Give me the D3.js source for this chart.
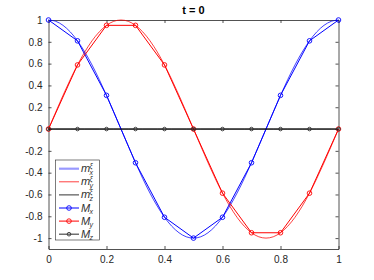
<!DOCTYPE html>
<html>
<head>
<meta charset="utf-8">
<script src="https://cdn.jsdelivr.net/npm/d3@7"></script>
<style>
  body { margin: 0; background: #fff; }
  text { font-family: "Liberation Sans", Helvetica, Arial, sans-serif; }
</style>
</head>
<body>
<svg id="chart" width="374" height="280"></svg>
<script>
// fine samples of the exact curves m^xi
var xFine = [0, 0.025, 0.05, 0.075, 0.1, 0.125, 0.15, 0.175, 0.2, 0.225, 0.25, 0.275, 0.3, 0.325, 0.35, 0.375, 0.4, 0.425, 0.45, 0.475,
  0.5, 0.525, 0.55, 0.575, 0.6, 0.625, 0.65, 0.675, 0.7, 0.725, 0.75, 0.775, 0.8, 0.825, 0.85, 0.875, 0.9, 0.925, 0.95, 0.975, 1];
var mx = [1, 0.988, 0.951, 0.891, 0.809, 0.707, 0.588, 0.454, 0.309, 0.156, 0, -0.156, -0.309, -0.454, -0.588, -0.707, -0.809, -0.891, -0.951, -0.988,
  -1, -0.988, -0.951, -0.891, -0.809, -0.707, -0.588, -0.454, -0.309, -0.156, 0, 0.156, 0.309, 0.454, 0.588, 0.707, 0.809, 0.891, 0.951, 0.988, 1];
var my = [0, 0.156, 0.309, 0.454, 0.588, 0.707, 0.809, 0.891, 0.951, 0.988, 1, 0.988, 0.951, 0.891, 0.809, 0.707, 0.588, 0.454, 0.309, 0.156,
  0, -0.156, -0.309, -0.454, -0.588, -0.707, -0.809, -0.891, -0.951, -0.988, -1, -0.988, -0.951, -0.891, -0.809, -0.707, -0.588, -0.454, -0.309, -0.156, 0];
var mz = [0, 0, 0, 0, 0, 0, 0, 0, 0, 0, 0, 0, 0, 0, 0, 0, 0, 0, 0, 0, 0, 0, 0, 0, 0, 0, 0, 0, 0, 0, 0, 0, 0, 0, 0, 0, 0, 0, 0, 0, 0];

// nodal values M
var xNodes = [0, 0.1, 0.2, 0.3, 0.4, 0.5, 0.6, 0.7, 0.8, 0.9, 1];
var Mx = [1, 0.809, 0.309, -0.309, -0.809, -1, -0.809, -0.309, 0.309, 0.809, 1];
var My = [0, 0.588, 0.951, 0.951, 0.588, 0, -0.588, -0.951, -0.951, -0.588, 0];
var Mz = [0, 0, 0, 0, 0, 0, 0, 0, 0, 0, 0];

var xTicks = [0, 0.2, 0.4, 0.6, 0.8, 1];
var yTicks = [-1, -0.8, -0.6, -0.4, -0.2, 0, 0.2, 0.4, 0.6, 0.8, 1];

var svg = d3.select('#chart'),
    padL = 48.5, padR = 338.5, padT = 20, padB = 249,
    axisCol = '#262626';

var x = d3.scaleLinear().domain([0, 1]).range([padL, padR]),
    y = d3.scaleLinear().domain([-1.1, 1]).range([padB, padT]);

// title
svg.append('text')
  .attr('x', (padL + padR) / 2).attr('y', 14)
  .attr('text-anchor', 'middle')
  .attr('font-size', 11).attr('font-weight', 'bold')
  .attr('fill', '#000')
  .text('t = 0');

// axes (ticks inward, box on)
var fmt = function(d) { return String(d); };
svg.append('g').attr('transform', 'translate(0,' + padB + ')')
  .call(d3.axisBottom(x).tickValues(xTicks).tickFormat(fmt).tickSizeInner(-3).tickSizeOuter(0).tickPadding(7));
svg.append('g').attr('transform', 'translate(0,' + padT + ')')
  .call(d3.axisTop(x).tickValues(xTicks).tickFormat('').tickSizeInner(-3).tickSizeOuter(0));
svg.append('g').attr('transform', 'translate(' + padL + ',0)')
  .call(d3.axisLeft(y).tickValues(yTicks).tickFormat(fmt).tickSizeInner(-3).tickSizeOuter(0).tickPadding(6));
svg.append('g').attr('transform', 'translate(' + padR + ',0)')
  .call(d3.axisRight(y).tickValues(yTicks).tickFormat('').tickSizeInner(-3).tickSizeOuter(0));

svg.selectAll('.domain').attr('stroke', axisCol).attr('stroke-width', 0.8);
svg.selectAll('.tick line').attr('stroke', axisCol).attr('stroke-width', 0.8);
svg.selectAll('.tick text').attr('fill', axisCol).attr('font-size', 10)
  .attr('font-family', '"Liberation Sans", Helvetica, Arial, sans-serif');

// series
var series = [
  { xs: xFine, ys: mx, color: '#0000ff', width: 1, op: 0.75, r: 0 },
  { xs: xFine, ys: my, color: '#ff0000', width: 1, op: 0.75, r: 0 },
  { xs: xFine, ys: mz, color: '#000000', width: 1, op: 0.8, r: 0 },
  { xs: xNodes, ys: Mx, color: '#0000ff', width: 1, op: 1, r: 2.3 },
  { xs: xNodes, ys: My, color: '#ff0000', width: 1, op: 1, r: 2.3 },
  { xs: xNodes, ys: Mz, color: '#000000', width: 1, op: 1, r: 1.8 }
];

var plot = svg.append('g');
series.forEach(function(s) {
  var pts = s.xs.map(function(v, i) { return [v, s.ys[i]]; });
  var line = d3.line()
    .x(function(d) { return x(d[0]); })
    .y(function(d) { return y(d[1]); });
  if (!s.r) line.curve(d3.curveCatmullRom);
  plot.append('path')
    .attr('d', line(pts))
    .attr('fill', 'none')
    .attr('stroke', s.color)
    .attr('stroke-opacity', s.op)
    .attr('stroke-width', s.width);
  if (s.r) {
    plot.selectAll(null).data(pts).enter().append('circle')
      .attr('cx', function(d) { return x(d[0]); })
      .attr('cy', function(d) { return y(d[1]); })
      .attr('r', s.r)
      .attr('fill', 'none')
      .attr('stroke', s.color === '#000000' ? '#333' : s.color)
      .attr('stroke-width', 0.9);
  }
});

// legend
var legendItems = [
  { base: 'm', sup: 'ξ', sub: 'x', color: '#0000ff', op: 0.4, width: 2.2, r: 0 },
  { base: 'm', sup: 'ξ', sub: 'y', color: '#ff0000', op: 0.75, width: 1, r: 0 },
  { base: 'm', sup: 'ξ', sub: 'z', color: '#000000', op: 0.8, width: 1, r: 0 },
  { base: 'M', sup: '', sub: 'x', color: '#0000ff', op: 1, width: 1, r: 2.3 },
  { base: 'M', sup: '', sub: 'y', color: '#ff0000', op: 1, width: 1, r: 2.3 },
  { base: 'M', sup: '', sub: 'z', color: '#000000', op: 0.7, width: 1.2, r: 1.8 }
];

var lg = svg.append('g');
lg.append('rect')
  .attr('x', 55.5).attr('y', 160).attr('width', 44).attr('height', 80)
  .attr('fill', '#fff').attr('stroke', axisCol).attr('stroke-width', 0.6);

legendItems.forEach(function(it, i) {
  var yy = 168.7 + i * 13.1;
  lg.append('line')
    .attr('x1', 59).attr('x2', 79).attr('y1', yy).attr('y2', yy)
    .attr('stroke', it.color).attr('stroke-opacity', it.op).attr('stroke-width', it.width);
  if (it.r) {
    lg.append('circle').attr('cx', 69).attr('cy', yy).attr('r', it.r)
      .attr('fill', 'none').attr('stroke', it.color === '#000000' ? '#333' : it.color).attr('stroke-width', 0.9);
  }
  var baseW = it.base === 'm' ? 8.5 : 9.5;
  lg.append('text')
    .attr('x', 81).attr('y', yy + 3.5)
    .attr('font-family', '"Liberation Serif", "DejaVu Serif", serif')
    .attr('font-style', 'italic').attr('font-size', 11)
    .attr('fill', '#333')
    .text(it.base);
  if (it.sup) {
    lg.append('text')
      .attr('x', 81 + baseW).attr('y', yy - 1)
      .attr('font-family', '"Liberation Serif", "DejaVu Serif", serif')
      .attr('font-style', 'italic').attr('font-size', 7)
      .attr('fill', '#333')
      .text(it.sup);
  }
  lg.append('text')
    .attr('x', 81 + baseW - (it.base === 'M' ? 1 : 0)).attr('y', yy + 6)
    .attr('font-family', '"Liberation Serif", "DejaVu Serif", serif')
    .attr('font-style', 'italic').attr('font-size', 7)
    .attr('fill', '#333')
    .text(it.sub);
});
</script>
</body>
</html>
